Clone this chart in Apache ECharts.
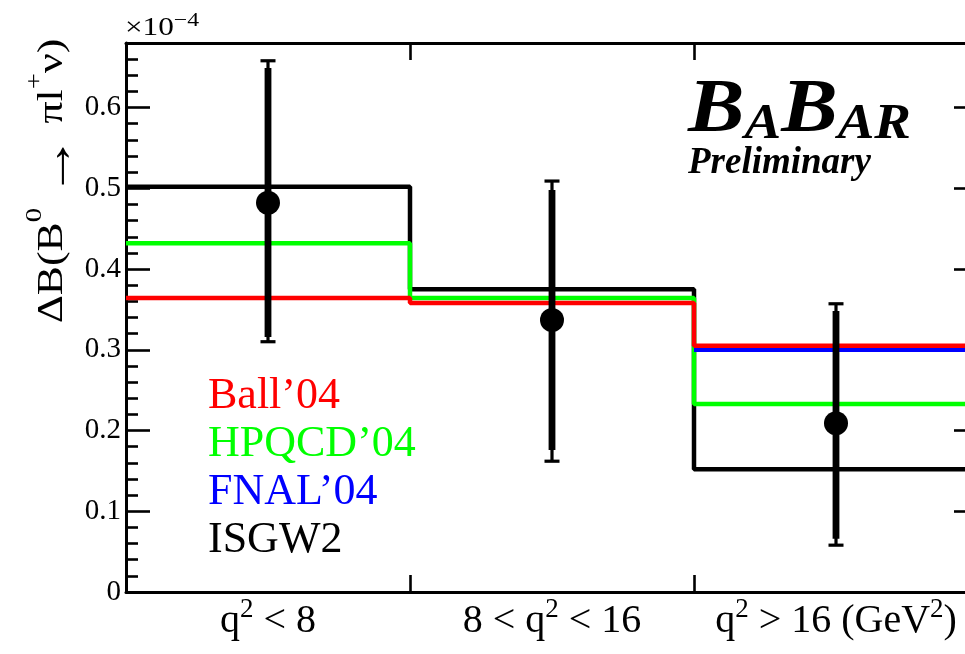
<!DOCTYPE html>
<html><head><meta charset="utf-8">
<script src="https://cdn.jsdelivr.net/npm/echarts@6/dist/echarts.min.js"></script>
<style>html,body{margin:0;padding:0;background:#fff}#c{width:965px;height:654px}</style>
</head><body><div id="c"></div>
<script>
// ---- data (branching fraction in units of 1e-4) ----
const binEdges = [0, 1, 2, 3];
const binLabels = ['{n|q}{s|2}{n| < 8}', '{n|8 < q}{s|2}{n| < 16}', '{n|q}{s|2}{n| > 16 (GeV}{s|2}{n|)}'];
const binCenters = [0.5, 1.5, 2.5];
const measured  = [0.482, 0.337, 0.209];
const statLow   = [0.316, 0.176, 0.066];
const statHigh  = [0.649, 0.498, 0.348];
const totalLow  = [0.310, 0.162, 0.058];
const totalHigh = [0.658, 0.509, 0.357];
const ball04  = [0.364, 0.358, 0.305];
const hpqcd04 = [0.432, 0.364, 0.233];
const fnal04  = [null, null, 0.300];
const isgw2   = [0.502, 0.375, 0.152];
const modelNames = ['Ball’04', 'HPQCD’04', 'FNAL’04', 'ISGW2'];
const modelColors = ['#ff0000', '#00ff00', '#0000ff', '#000000'];

function stepData(vals) {
  const d = vals.map((v, i) => [binEdges[i], v]);
  d.push([binEdges[vals.length], vals[vals.length - 1]]);
  return d.filter(p => p[1] !== null);
}

const chart = echarts.init(document.getElementById('c'));
const serif = 'Liberation Serif';

function yAxisCfg(pos, showLabel) {
  return {
    type: 'value', min: 0, max: 0.68, interval: 0.1, position: pos,
    axisLine: {show: true, onZero: false, lineStyle: {color: '#000', width: 3}},
    axisTick: {show: true, inside: true, length: 24, lineStyle: {color: '#000', width: 2.6}},
    minorTick: {show: true, splitNumber: 5, length: 12, lineStyle: {color: '#000', width: 2.6}},
    splitLine: {show: false},
    axisLabel: {show: showLabel, margin: 5, showMaxLabel: false, color: '#000', fontFamily: serif, fontSize: 29,
      formatter: v => v === 0 ? '0' : v.toFixed(1)}
  };
}

const lineBase = {type: 'line', step: 'end', symbol: 'none', showSymbol: false, silent: true, animation: false};

chart.setOption({
  animation: false,
  grid: {left: 126, top: 43, width: 852, height: 549, containLabel: false, outerBoundsMode: 'none'},
  xAxis: [{
    type: 'value', min: 0, max: 3, position: 'bottom',
    axisLine: {show: true, onZero: false, lineStyle: {color: '#000', width: 3}},
    axisTick: {show: true, inside: true, length: 17, customValues: [1, 2], lineStyle: {color: '#000', width: 2.6}},
    splitLine: {show: false},
    axisLabel: {customValues: binCenters, margin: 4, color: '#000',
      formatter: v => binLabels[Math.floor(v)],
      rich: {
        n: {fontFamily: serif, fontSize: 40, lineHeight: 51, color: '#000'},
        s: {fontFamily: serif, fontSize: 27, lineHeight: 24, verticalAlign: 'top', color: '#000'}
      }}
  }, {
    type: 'value', min: 0, max: 3, position: 'top',
    axisLine: {show: true, onZero: false, lineStyle: {color: '#000', width: 3}},
    axisTick: {show: true, inside: true, length: 17, customValues: [1, 2], lineStyle: {color: '#000', width: 2.6}},
    splitLine: {show: false},
    axisLabel: {show: false}
  }],
  yAxis: [yAxisCfg('left', true), yAxisCfg('right', false)],
  legend: {
    orient: 'vertical', left: 203, top: 372, icon: 'none', itemWidth: 0, itemHeight: 10, itemGap: 0, padding: 0,
    selectedMode: false,
    textStyle: {fontFamily: serif, fontSize: 44, lineHeight: 48},
    data: modelNames.map((n, i) => ({name: n, textStyle: {color: modelColors[i]}}))
  },
  series: [
    Object.assign({}, lineBase, {name: modelNames[3], data: stepData(isgw2), lineStyle: {color: modelColors[3], width: 4.5}, itemStyle: {color: modelColors[3]}}),
    Object.assign({}, lineBase, {name: modelNames[1], data: stepData(hpqcd04), lineStyle: {color: modelColors[1], width: 4.5}, itemStyle: {color: modelColors[1]}}),
    Object.assign({}, lineBase, {name: modelNames[2], data: stepData(fnal04), lineStyle: {color: modelColors[2], width: 4.5}, itemStyle: {color: modelColors[2]}}),
    Object.assign({}, lineBase, {name: modelNames[0], data: stepData(ball04), lineStyle: {color: modelColors[0], width: 4.5}, itemStyle: {color: modelColors[0]}}),
    {
      type: 'custom', name: 'data', silent: true, z: 10,
      data: measured.map((v, i) => [binCenters[i], v, statLow[i], statHigh[i], totalLow[i], totalHigh[i]]),
      encode: {x: 0, y: 1},
      renderItem: function (params, api) {
        const x = api.coord([api.value(0), 0])[0];
        const yv = api.coord([0, api.value(1)])[1];
        const ySl = api.coord([0, api.value(2)])[1];
        const ySh = api.coord([0, api.value(3)])[1];
        const yTl = api.coord([0, api.value(4)])[1];
        const yTh = api.coord([0, api.value(5)])[1];
        const st = {stroke: '#000', lineWidth: 3.2};
        return {type: 'group', children: [
          {type: 'line', shape: {x1: x, y1: yTl, x2: x, y2: yTh}, style: st},
          {type: 'rect', shape: {x: x - 3.4, y: ySh, width: 6.8, height: ySl - ySh}, style: {fill: '#000'}},
          {type: 'line', shape: {x1: x - 7.5, y1: yTh, x2: x + 7.5, y2: yTh}, style: st},
          {type: 'line', shape: {x1: x - 7.5, y1: yTl, x2: x + 7.5, y2: yTl}, style: st},
          {type: 'circle', shape: {cx: x, cy: yv, r: 12}, style: {fill: '#000'}}
        ]};
      }
    }
  ],
  graphic: [
    {type: 'text', x: 125, y: 12, scaleX: 1.25, silent: true,
      style: {text: '{a|×10}{b|−4}', textVerticalAlign: 'top',
        rich: {a: {fontFamily: serif, fontSize: 25, lineHeight: 33, fill: '#000'},
               b: {fontFamily: serif, fontSize: 19, lineHeight: 11, verticalAlign: 'top', fill: '#000'}}}},
    {type: 'text', x: 53, y: 181, rotation: Math.PI / 2, scaleX: 1.25, silent: true,
      style: {text: '{n|ΔB(B}{s|0}{n| }{a|→}{n| πl}{s|+}{n|ν)}', textAlign: 'center', textVerticalAlign: 'middle',
        rich: {n: {fontFamily: serif, fontSize: 35, lineHeight: 60, fill: '#000'},
               a: {fontFamily: serif, fontSize: 50, lineHeight: 56, verticalAlign: 'bottom', fill: '#000'},
               s: {fontFamily: serif, fontSize: 23, lineHeight: 19, verticalAlign: 'top', fill: '#000'}}}},
    {type: 'text', x: 688, y: 70, scaleX: 1.1, silent: true,
      style: {text: '{b|B}{a|A}{b|B}{a|AR}', textVerticalAlign: 'top',
        rich: {b: {fontFamily: serif, fontSize: 77, fontWeight: 'bold', fontStyle: 'italic', lineHeight: 80, verticalAlign: 'bottom', fill: '#000'},
               a: {fontFamily: serif, fontSize: 50, fontWeight: 'bold', fontStyle: 'italic', lineHeight: 62, verticalAlign: 'bottom', fill: '#000'}}}},
    {type: 'text', x: 688, y: 163, silent: true,
      style: {text: 'Preliminary', fontFamily: serif, fontSize: 37, fontWeight: 'bold', fontStyle: 'italic', fill: '#000', textVerticalAlign: 'middle'}}
  ]
});
</script></body></html>
